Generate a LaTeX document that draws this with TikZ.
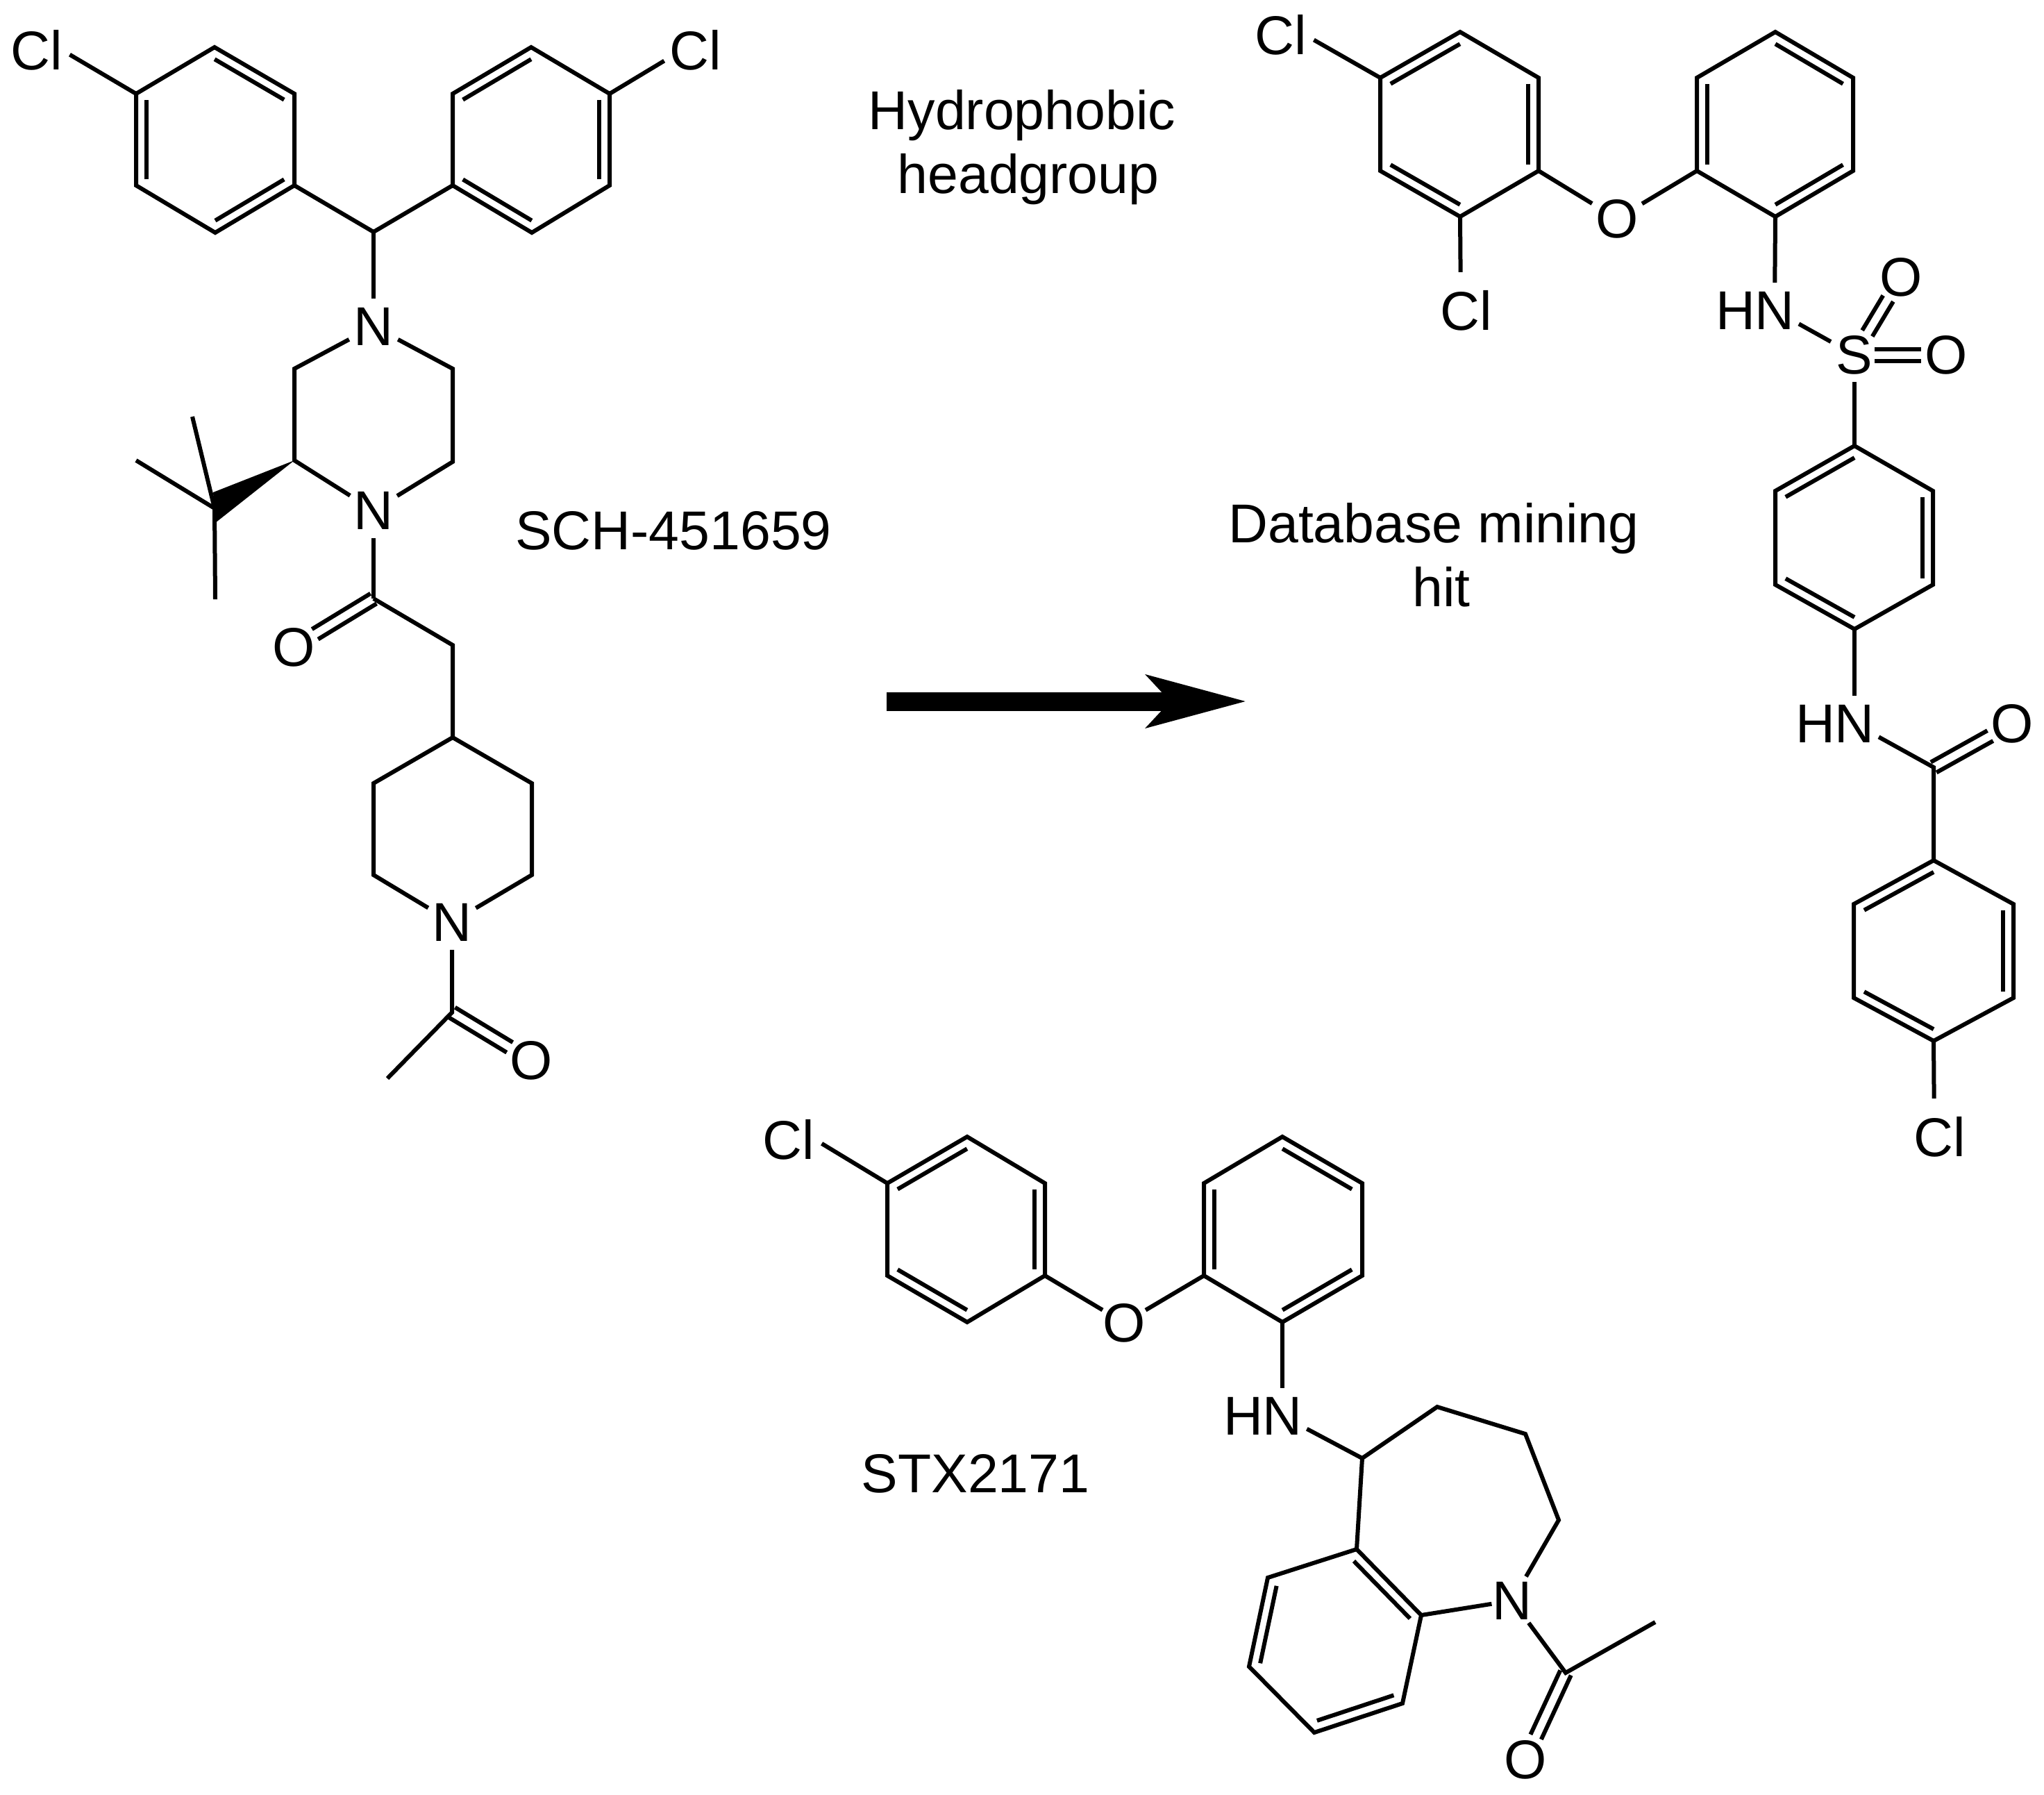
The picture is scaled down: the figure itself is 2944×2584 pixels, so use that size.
\documentclass[tikz,border=0pt]{standalone}
\usepackage{fontspec}
\setmainfont{Liberation Sans}
\usetikzlibrary{calc}
\usetikzlibrary{positioning}
\usetikzlibrary{arrows.meta}

\tikzset{
  bond/.style={line width=1.5pt},
  atom/.style={circle,inner sep=0pt,font=\fontsize{19.7}{23}\selectfont},
  caption/.style={align=center,inner sep=0pt,font=\fontsize{19.7}{23}\selectfont},
}
% inner line of a ring double bond: centre, vertex, vertex
\newcommand{\inbond}[3]{\draw[bond] ($(#1)!.87!(#2)$) -- ($(#1)!.87!(#3)$);}
% two parallel lines between two atoms
\newcommand{\twobond}[3][]{
  \draw[bond,#1] ($(#2)!8.5*0.25pt!90:(#3)$) -- ($(#3)!8.5*0.25pt!-90:(#2)$);
  \draw[bond,#1] ($(#2)!8.5*0.25pt!-90:(#3)$) -- ($(#3)!8.5*0.25pt!90:(#2)$);
}

\begin{document}
\begin{tikzpicture}[x=0.25pt,y=-0.25pt]
   \useasboundingbox (0,0) rectangle (2944,2584);

   % SCH-451659
   \coordinate (a1) at (309,68);  \coordinate (a2) at (424,135);
   \coordinate (a3) at (424,267); \coordinate (a4) at (310,335);
   \coordinate (a5) at (196,267); \coordinate (a6) at (196,135);
   \coordinate (ca) at (310,201);
   \coordinate (b1) at (765,68);  \coordinate (b2) at (878,135);
   \coordinate (b3) at (878,267); \coordinate (b4) at (766,335);
   \coordinate (b5) at (652,267); \coordinate (b6) at (652,135);
   \coordinate (cb) at (765,201);
   \coordinate (ch) at (538,334);
   \node[atom] (cla) at (53,72) {Cl};
   \node[atom] (clb) at (1002,72) {Cl};
   \node[atom] (n1) at (538,470) {N};
   \node[atom] (n2) at (538,735) {N};
   \coordinate (p1) at (652,531); \coordinate (p2) at (652,665);
   \coordinate (p3) at (424,663); \coordinate (p4) at (424,531);
   \coordinate (tb) at (309,732);
   \coordinate (w1) at (307,709); \coordinate (w2) at (310,753);
   \coordinate (m1) at (277,600); \coordinate (m2) at (196,663);
   \coordinate (m3) at (310,863);
   \coordinate (co) at (538,862);
   \node[atom] (o1) at (423,932) {O};
   \coordinate (c2) at (652,929); \coordinate (c4) at (652,1062);
   \coordinate (d1) at (766,1128); \coordinate (d2) at (766,1260);
   \coordinate (d3) at (538,1260); \coordinate (d4) at (538,1128);
   \node[atom] (n3) at (651,1328) {N};
   \coordinate (ac) at (651,1458);
   \coordinate (me) at (558,1553);
   \node[atom] (o2) at (765,1527) {O};

   \draw[bond] (a1) -- (a2) -- (a3) -- (a4) -- (a5) -- (a6) -- cycle;
   \inbond{ca}{a1}{a2} \inbond{ca}{a3}{a4} \inbond{ca}{a5}{a6}
   \draw[bond] (b1) -- (b2) -- (b3) -- (b4) -- (b5) -- (b6) -- cycle;
   \inbond{cb}{b6}{b1} \inbond{cb}{b2}{b3} \inbond{cb}{b4}{b5}
   \draw[bond] (a6) -- (cla.-8);
   \draw[bond] (b2) -- (clb.199);
   \draw[bond] (a3) -- (ch) -- (b5);
   \draw[bond] (ch) -- (n1);
   \draw[bond] (n1) -- (p1) -- (p2) -- (n2);
   \draw[bond] (n1) -- (p4) -- (p3) -- (n2);
   \fill (p3) -- (w1) -- (w2) -- cycle;
   \draw[bond] (m1) -- (tb);
   \draw[bond] (m2) -- (tb) -- (m3);
   \draw[bond] (n2) -- (co);
   \twobond[shorten >=9pt]{co}{o1}
   \draw[bond] (co) -- (c2) -- (c4);
   \draw[bond] (n3) -- (d3) -- (d4) -- (c4) -- (d1) -- (d2) -- (n3);
   \draw[bond] (n3) -- (ac) -- (me);
   \twobond[shorten >=9pt]{ac}{o2}
   \node[caption] (name1) at (970,764) {SCH-451659};

   % arrow
   \coordinate (ar1) at (1277,1010);
   \coordinate (ar2) at (1796,1010);
   \draw[line width=6.75pt,-{Stealth[length=35.5pt,width=18.3pt,inset=8pt]}] (ar1) -- (ar2);

   % database mining hit
   \coordinate (e1) at (2103,46);  \coordinate (e2) at (2216,112);
   \coordinate (e3) at (2216,246); \coordinate (e4) at (2103,312);
   \coordinate (e5) at (1988,246); \coordinate (e6) at (1988,112);
   \coordinate (ce) at (2102,179);
   \coordinate (f1) at (2557,46);  \coordinate (f2) at (2669,112);
   \coordinate (f3) at (2669,246); \coordinate (f4) at (2557,312);
   \coordinate (f5) at (2444,246); \coordinate (f6) at (2444,112);
   \coordinate (cf) at (2557,179);
   \node[atom] (clc) at (1845,50) {Cl};
   \node[atom] (cld) at (2112,447) {Cl};
   \node[atom] (o3) at (2329,315) {O};
   \node[atom] (n4) at (2556,447) {N};
   \node[atom] (h4) [left=-6pt of n4] {H};
   \node[atom] (s1) at (2671,511) {S};
   \node[atom] (o4) at (2738,399) {O};
   \node[atom] (o5) at (2803,511) {O};
   \coordinate (g1) at (2671,642); \coordinate (g2) at (2784,707);
   \coordinate (g3) at (2784,842); \coordinate (g4) at (2671,906);
   \coordinate (g5) at (2557,842); \coordinate (g6) at (2557,707);
   \coordinate (cg) at (2671,774);
   \node[atom] (n5) at (2671,1042) {N};
   \node[atom] (h5) [left=-6pt of n5] {H};
   \coordinate (am) at (2785,1105);
   \node[atom] (o6) at (2898,1042) {O};
   \coordinate (k1) at (2785,1239); \coordinate (k2) at (2900,1302);
   \coordinate (k3) at (2900,1437); \coordinate (k4) at (2785,1499);
   \coordinate (k5) at (2670,1437); \coordinate (k6) at (2670,1302);
   \coordinate (ck) at (2785,1369);
   \node[atom] (cle) at (2794,1637) {Cl};

   \draw[bond] (e1) -- (e2) -- (e3) -- (e4) -- (e5) -- (e6) -- cycle;
   \inbond{ce}{e6}{e1} \inbond{ce}{e2}{e3} \inbond{ce}{e4}{e5}
   \draw[bond] (f1) -- (f2) -- (f3) -- (f4) -- (f5) -- (f6) -- cycle;
   \inbond{cf}{f1}{f2} \inbond{cf}{f3}{f4} \inbond{cf}{f5}{f6}
   \draw[bond] (e6) -- (clc.-9);
   \draw[bond,shorten >=2pt] (e4) -- (cld.100);
   \draw[bond] (e3) -- (o3) -- (f5);
   \draw[bond] (f4) -- (n4);
   \draw[bond] (n4) -- (s1);
   \twobond[shorten <=9pt,shorten >=9pt]{s1}{o4}
   \twobond[shorten <=7.25pt,shorten >=9pt]{s1}{o5}
   \draw[bond] (s1) -- (g1);
   \draw[bond] (g1) -- (g2) -- (g3) -- (g4) -- (g5) -- (g6) -- cycle;
   \inbond{cg}{g6}{g1} \inbond{cg}{g2}{g3} \inbond{cg}{g4}{g5}
   \draw[bond] (g4) -- (n5);
   \draw[bond] (n5) -- (am) -- (k1);
   \twobond[shorten >=9pt]{am}{o6}
   \draw[bond] (k1) -- (k2) -- (k3) -- (k4) -- (k5) -- (k6) -- cycle;
   \inbond{ck}{k6}{k1} \inbond{ck}{k2}{k3} \inbond{ck}{k4}{k5}
   \draw[bond,shorten >=2pt] (k4) -- (cle.100);
   \node[caption] (name2) at (1472,212) {Hydrophobic\\\hspace*{4.5pt}headgroup};
   \node[caption] (name3) at (2065,799) {Database mining\\\hspace*{5.5pt}hit};

   % STX2171
   \coordinate (q1) at (1393,1637); \coordinate (q2) at (1505,1704);
   \coordinate (q3) at (1505,1837); \coordinate (q4) at (1393,1904);
   \coordinate (q5) at (1278,1837); \coordinate (q6) at (1278,1704);
   \coordinate (cq) at (1392,1770);
   \coordinate (r1) at (1847,1637); \coordinate (r2) at (1962,1704);
   \coordinate (r3) at (1962,1837); \coordinate (r4) at (1847,1904);
   \coordinate (r5) at (1734,1837); \coordinate (r6) at (1734,1704);
   \coordinate (cr) at (1848,1770);
   \node[atom] (clf) at (1136,1641) {Cl};
   \node[atom] (o7) at (1619,1905) {O};
   \node[atom] (n6) at (1847,2039) {N};
   \node[atom] (h6) [left=-6pt of n6] {H};
   \coordinate (t5) at (1962,2100); \coordinate (t4) at (2070,2026);
   \coordinate (t3) at (2197,2065); \coordinate (t2) at (2245,2189);
   \node[atom] (n7) at (2178,2305) {N};
   \coordinate (u1) at (1954,2231); \coordinate (u2) at (2047,2326);
   \coordinate (u3) at (2020,2453); \coordinate (u4) at (1893,2495);
   \coordinate (u5) at (1799,2400); \coordinate (u6) at (1826,2272);
   \coordinate (cu) at (1923,2363);
   \coordinate (ak) at (2255,2409);
   \coordinate (mk) at (2384,2336);
   \node[atom] (o8) at (2197,2534) {O};

   \draw[bond] (q1) -- (q2) -- (q3) -- (q4) -- (q5) -- (q6) -- cycle;
   \inbond{cq}{q6}{q1} \inbond{cq}{q2}{q3} \inbond{cq}{q4}{q5}
   \draw[bond] (r1) -- (r2) -- (r3) -- (r4) -- (r5) -- (r6) -- cycle;
   \inbond{cr}{r1}{r2} \inbond{cr}{r3}{r4} \inbond{cr}{r5}{r6}
   \draw[bond] (q6) -- (clf.-7);
   \draw[bond,shorten >=-1.5pt] (q3) -- (o7);
   \draw[bond,shorten >=-1.5pt] (r5) -- (o7);
   \draw[bond] (r4) -- (n6);
   \draw[bond] (n6) -- (t5) -- (t4) -- (t3) -- (t2) -- (n7);
   \draw[bond] (t5) -- (u1);
   \draw[bond] (u1) -- (u2) -- (u3) -- (u4) -- (u5) -- (u6) -- cycle;
   \inbond{cu}{u1}{u2} \inbond{cu}{u3}{u4} \inbond{cu}{u5}{u6}
   \draw[bond,shorten >=-2.5pt] (u2) -- (n7);
   \draw[bond] (n7) -- (ak) -- (mk);
   \twobond[shorten >=9pt]{ak}{o8}
   \node[caption] (name4) at (1405,2122) {STX2171};
 \end{tikzpicture}
\end{document}
